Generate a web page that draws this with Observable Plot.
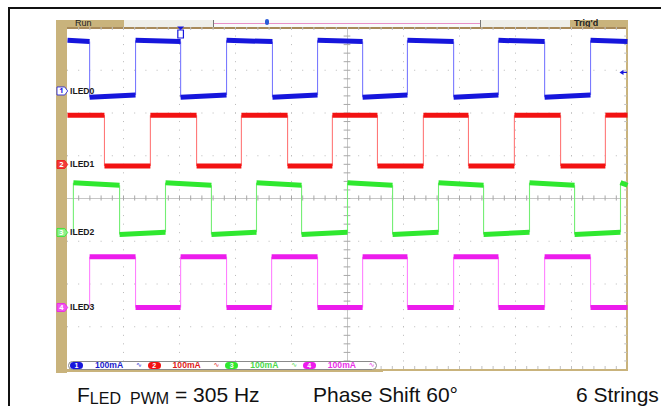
<!DOCTYPE html>
<html><head><meta charset="utf-8">
<script src="https://cdn.jsdelivr.net/npm/d3@7"></script>
<script src="https://cdn.jsdelivr.net/npm/@observablehq/plot@0.6"></script>
<style>
body{margin:0;background:#fff;font-family:"Liberation Sans",Arial,sans-serif;}
#wrap{position:relative;width:661px;height:406px;overflow:hidden;background:#fff;}
.a{position:absolute;box-sizing:border-box;}
</style></head><body><div id="wrap"></div>
<script>
// ---------- data (time in ms, 2 ms/div; levels in divisions) ----------
const channelNames = ["ILED0", "ILED1", "ILED2", "ILED3"];
const channelNumbers = ["1", "2", "3", "4"];
const scaleLabels = ["100mA", "100mA", "100mA", "100mA"];
const traceColors = ["#1616dc", "#f21212", "#2fe82f", "#ec1cec"];
const edgeColors = ["#7a7aff", "#ff7878", "#74ee74", "#ff80ff"];
const markerFills = ["#ffffff", "#f23a3a", "#8cf08c", "#f055f0"];
const markerText = ["#1616dc", "#ffffff", "#ffffff", "#ffffff"];
const legendText = ["#1a1acc", "#e01a1a", "#4ad84a", "#e830e8"];
const groundLevels = [2.515, 0.795, -0.795, -2.55];

const iled0Edges = [0.79, 2.43, 4.04, 5.68, 7.32, 8.93, 10.54, 12.14, 13.79, 15.39, 17.04, 18.68];
const iled1Edges = [1.32, 2.96, 4.61, 6.21, 7.86, 9.46, 11.07, 12.71, 14.32, 15.96, 17.61, 19.21];
const iled2Edges = [0.21, 1.86, 3.50, 5.14, 6.75, 8.36, 10.00, 11.61, 13.25, 14.86, 16.50, 18.11, 19.75];
const iled3Edges = [0.79, 2.43, 4.04, 5.68, 7.29, 8.93, 10.54, 12.14, 13.79, 15.39, 17.04, 18.68];
const traceStart = [0, 0, 0.21, 0.79];
const traceStartState = ["high", "high", "low", "low"];
const highStart = [3.70, 1.95, 0.37, -1.36];
const highEnd = [3.67, 1.95, 0.31, -1.36];
const lowStart = [2.37, 0.76, -0.84, -2.55];
const lowEnd = [2.42, 0.76, -0.79, -2.55];

const triggerTime = 4.04;
const triggerLevel = 2.95;
const timeDomain = [0, 20];
const divDomain = [-4, 4];
const xGrid = [2, 4, 6, 8, 12, 14, 16, 18];
const yGrid = [-3, -2, -1, 1, 2, 3];

// ---------- build segments ----------
const allEdges = [iled0Edges, iled1Edges, iled2Edges, iled3Edges];
function buildTrace(ch) {
  const flats = [], verts = [];
  let state = traceStartState[ch];
  let t0 = traceStart[ch];
  for (const t of [...allEdges[ch], timeDomain[1]]) {
    const s = state === "high" ? highStart[ch] : lowStart[ch];
    const e = state === "high" ? highEnd[ch] : lowEnd[ch];
    if (t > t0) flats.push({x1: t0, x2: t, y1: s, y2: e});
    if (t < timeDomain[1]) {
      const next = state === "high" ? lowStart[ch] : highStart[ch];
      verts.push({x: t, y1: e, y2: next});
      state = state === "high" ? "low" : "high";
      t0 = t;
    }
  }
  return {flats, verts};
}
const traces = channelNames.map((_, i) => buildTrace(i));
const channels = channelNames.map((name, i) => ({i, name, num: channelNumbers[i], ground: groundLevels[i]}));

const tagSymbol = {draw(ctx) { ctx.moveTo(-5.5, -4); ctx.lineTo(2.2, -4); ctx.lineTo(5.2, 0); ctx.lineTo(2.2, 4); ctx.lineTo(-5.5, 4); ctx.closePath(); }};
const arrowLeft = {draw(ctx) { ctx.moveTo(-3, 0); ctx.lineTo(1, -2.6); ctx.lineTo(1, 2.6); ctx.closePath(); ctx.rect(1, -0.7, 3.5, 1.4); }};
const trigTri = {draw(ctx) { ctx.moveTo(-3.5, -5); ctx.lineTo(3.5, -5); ctx.lineTo(0, -1.5); ctx.closePath(); }};
const trigBody = {draw(ctx) { ctx.rect(-2.8, -1.5, 5.6, 8); }};

const minorX = d3.range(0.4, 20, 0.4);
const minorY = d3.range(-3.8, 4, 0.2);

const marks = [
  Plot.ruleX(xGrid, {stroke: "#b9b9b9", strokeDasharray: "1,7.55"}),
  Plot.ruleY(yGrid, {stroke: "#b9b9b9", strokeDasharray: "1,10.2"}),
  Plot.ruleX([10], {stroke: "#c6c6c6"}),
  Plot.ruleY([0], {stroke: "#c6c6c6"}),
  Plot.ruleX(minorX, {y1: -0.06, y2: 0.06, stroke: "#a8a8a8"}),
  Plot.ruleY(minorY, {x1: 9.88, x2: 10.12, stroke: "#a8a8a8"}),
  Plot.ruleX(minorX, {y1: 3.93, y2: 4, stroke: "#c0c0c0"}),
  Plot.ruleX(minorX, {y1: -4, y2: -3.93, stroke: "#c0c0c0"}),
  Plot.ruleY(minorY, {x1: 19.9, x2: 20, stroke: "#c0c0c0"})
];
traces.forEach((tr, i) => {
  marks.push(Plot.link(tr.verts, {x1: "x", x2: "x", y1: "y1", y2: "y2", stroke: edgeColors[i], strokeWidth: 1.1}));
  marks.push(Plot.link(tr.flats, {x1: "x1", x2: "x2", y1: "y1", y2: "y2", stroke: traceColors[i], strokeWidth: 5, strokeLinecap: "butt"}));
});
marks.push(
  Plot.dot(channels, {x: () => 0, y: "ground", dx: -5, symbol: tagSymbol, fill: d => markerFills[d.i], stroke: d => traceColors[d.i], strokeWidth: 0.8}),
  Plot.text(channels, {x: () => 0, y: "ground", dx: -6, text: "num", fill: d => markerText[d.i], fontSize: 7.5, fontWeight: "bold"}),
  Plot.text(channels, {x: () => 0, y: "ground", dx: 2.5, text: "name", textAnchor: "start", fill: "#1a1a1a", fontSize: 8.6, fontWeight: "bold", fontFamily: "Liberation Sans"}),
  Plot.dot([triggerLevel], {x: () => timeDomain[1], y: d => d, dx: -5, symbol: arrowLeft, fill: traceColors[0], stroke: "none"}),
  Plot.dot([triggerTime], {x: d => d, y: () => divDomain[1], dy: 4, symbol: trigTri, fill: traceColors[0], stroke: "none"}),
  Plot.dot([triggerTime], {x: d => d, y: () => divDomain[1], dy: 4, symbol: trigBody, fill: "#ffffff", stroke: traceColors[0], strokeWidth: 1.2})
);

const chart = Plot.plot({
  width: 661, height: 380,
  marginLeft: 67, marginRight: 34, marginTop: 27, marginBottom: 11,
  x: {domain: timeDomain, axis: null},
  y: {domain: divDomain, axis: null},
  style: {background: "transparent", overflow: "visible"},
  marks
});

// ---------- scope chrome ----------
const wrap = document.getElementById("wrap");
function box(css, html) { const d = document.createElement("div"); d.className = "a"; d.style.cssText = css; if (html) d.innerHTML = html; wrap.appendChild(d); return d; }
const tan = "#c9b37c";
box("left:8px;top:7px;width:700px;height:420px;border-top:2px solid #111;border-left:2px solid #111;");
box(`left:56px;top:20px;width:11px;height:353px;background:${tan};`);
box(`left:56px;top:20px;width:68px;height:7px;background:${tan};`);
box("left:75px;top:18px;font:9px 'Liberation Sans';color:#222;line-height:10px;", "Run");
box("left:124px;top:20px;width:446px;height:7px;background:#efefe9;");
box("left:213px;top:20px;width:268px;height:7px;background:#fafafa;border-left:1px solid #777;border-right:1px solid #777;");
box("left:214px;top:23px;width:266px;height:1px;background:#e890c8;");
box("left:265px;top:19px;width:4px;height:6px;background:#2a5ad8;border-radius:2px;");
box(`left:570px;top:20px;width:58px;height:7px;background:${tan};`);
box("left:574px;top:18px;font:bold 9px 'Liberation Sans';color:#222;line-height:10px;", "Trig'd");
box("left:67px;top:27px;width:561px;height:1.5px;background:#a88a5a;");
box(`left:626px;top:20px;width:2px;height:351px;background:${tan};`);
box(`left:56px;top:369px;width:327px;height:3px;background:${tan};`);
box(`left:383px;top:369px;width:245px;height:1.5px;background:${tan};`);

chart.style.position = "absolute"; chart.style.left = "0px"; chart.style.top = "0px";
wrap.appendChild(chart);

// legend strip
const leg = box("left:68px;top:361px;width:309px;height:9px;background:#fff;border:1px solid #8a8a8a;border-radius:5px;");
channels.forEach((c, i) => {
  const x0 = 1 + i * 77.6;
  const p = document.createElement("div"); p.className = "a";
  p.style.cssText = `left:${x0}px;top:0px;width:13px;height:7px;background:${traceColors[i]};border-radius:4px;color:#fff;font:bold 7px 'Liberation Sans';line-height:7px;text-align:center;`;
  p.textContent = c.num; leg.appendChild(p);
  const t = document.createElement("div"); t.className = "a";
  t.style.cssText = `left:${x0 + 25}px;top:-2px;color:${legendText[i]};font:bold 8.6px 'Liberation Sans';line-height:10px;white-space:nowrap;`;
  t.textContent = scaleLabels[i]; leg.appendChild(t);
  const ic = document.createElement("div"); ic.className = "a";
  ic.style.cssText = `left:${x0 + 66}px;top:-2px;color:${legendText[i]};font:7px 'DejaVu Sans';line-height:10px;`;
  ic.textContent = "∿"; leg.appendChild(ic);
});

// caption
const ns = "http://www.w3.org/2000/svg";
const cap = document.createElementNS(ns, "svg");
cap.setAttribute("width", 661); cap.setAttribute("height", 406);
cap.style.cssText = "position:absolute;left:0;top:0;pointer-events:none;";
cap.innerHTML = `<g font-family="Liberation Sans, Arial, sans-serif" fill="#111">
<text x="77" y="402" font-size="21">F<tspan font-size="16" dy="2">LED</tspan><tspan x="130" font-size="16">PWM</tspan><tspan dy="-2"> = 305 Hz</tspan></text>
<text x="313" y="402" font-size="21">Phase Shift 60°</text>
<text x="576" y="402" font-size="21">6 Strings</text></g>`;
wrap.appendChild(cap);
</script></body></html>
